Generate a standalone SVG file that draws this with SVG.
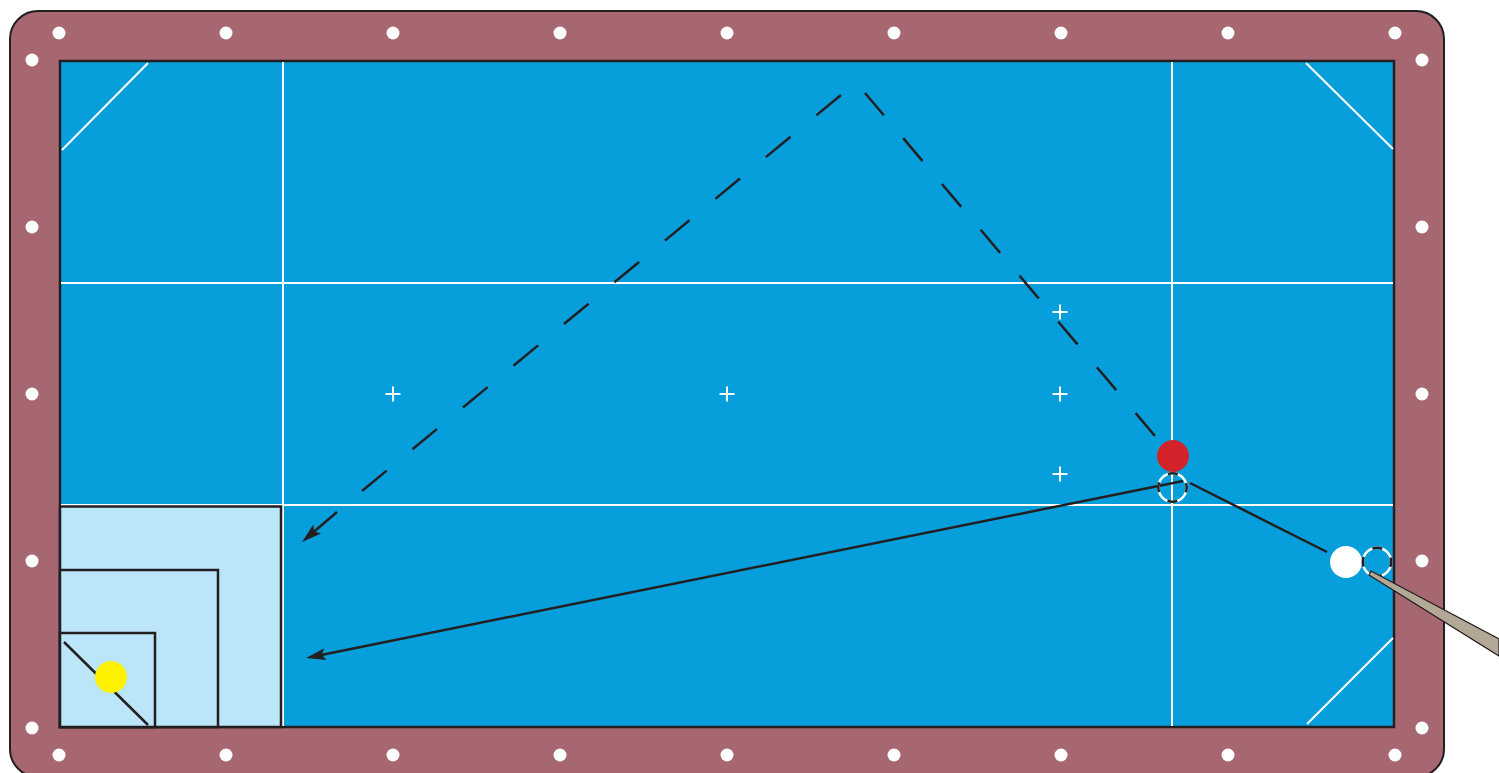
<svg xmlns="http://www.w3.org/2000/svg" width="1499" height="773" viewBox="0 0 1499 773">
<style>
.frame{fill:#a66771;stroke:#231f20;stroke-width:2}
.cloth{fill:#079fdb;stroke:#231f20;stroke-width:2.5}
.dia{fill:#ffffff}
.grid{stroke:#ffffff;stroke-width:2;fill:none}
.zone{fill:#bbe5f8;stroke:#231f20;stroke-width:2.5}
.path{stroke:#231f20;stroke-width:2.5;fill:none}
.ghostw{fill:none;stroke:#ffffff;stroke-width:2.5}
.ghostb{fill:none;stroke:#231f20;stroke-width:2.5;stroke-dasharray:10 12.27;stroke-dashoffset:5}
</style>
<defs>
<marker id="arr" viewBox="0 0 20 12" refX="12" refY="6" markerWidth="20" markerHeight="12" markerUnits="userSpaceOnUse" orient="auto">
<path d="M0,0 L20,6 L0,12 L4,6 z" fill="#231f20"/>
</marker>
</defs>
<g id="table">
<rect class="frame" x="10" y="11" width="1434" height="766" rx="28"/>
<rect class="cloth" x="60" y="61" width="1334" height="666"/>
<g id="grid">
<line class="grid" x1="283" y1="62" x2="283" y2="726"/>
<line class="grid" x1="1172" y1="62" x2="1172" y2="726"/>
<line class="grid" x1="61" y1="283" x2="1393" y2="283"/>
<line class="grid" x1="61" y1="505" x2="1393" y2="505"/>
<line class="grid" x1="62" y1="150" x2="148" y2="63"/>
<line class="grid" x1="1306" y1="63" x2="1393" y2="149"/>
<line class="grid" x1="1307" y1="724" x2="1393" y2="638"/>
<path class="grid" d="M385.5,394h15M393,386.5v15M719.5,394h15M727,386.5v15M1052.5,394h15M1060,386.5v15M1052.5,312h15M1060,304.5v15M1052.5,474h15M1060,466.5v15"/>
</g>
<g id="diamonds" class="dia">
<circle cx="59" cy="33" r="6.5"/><circle cx="226" cy="33" r="6.5"/><circle cx="393" cy="33" r="6.5"/><circle cx="560" cy="33" r="6.5"/><circle cx="727" cy="33" r="6.5"/><circle cx="894" cy="33" r="6.5"/><circle cx="1061" cy="33" r="6.5"/><circle cx="1228" cy="33" r="6.5"/><circle cx="1395" cy="33" r="6.5"/>
<circle cx="59" cy="755" r="6.5"/><circle cx="226" cy="755" r="6.5"/><circle cx="393" cy="755" r="6.5"/><circle cx="560" cy="755" r="6.5"/><circle cx="727" cy="755" r="6.5"/><circle cx="894" cy="755" r="6.5"/><circle cx="1061" cy="755" r="6.5"/><circle cx="1228" cy="755" r="6.5"/><circle cx="1395" cy="755" r="6.5"/>
<circle cx="32" cy="60" r="6.5"/><circle cx="32" cy="227" r="6.5"/><circle cx="32" cy="394" r="6.5"/><circle cx="32" cy="561" r="6.5"/><circle cx="32" cy="728" r="6.5"/>
<circle cx="1422" cy="60" r="6.5"/><circle cx="1422" cy="227" r="6.5"/><circle cx="1422" cy="394" r="6.5"/><circle cx="1422" cy="561" r="6.5"/><circle cx="1422" cy="728" r="6.5"/>
</g>
</g>
<g id="target-zone">
<rect class="zone" x="60" y="506.5" width="221" height="220.5"/>
<rect class="zone" x="60" y="570" width="158" height="157"/>
<rect class="zone" x="60" y="633" width="95" height="94"/>
<line class="path" x1="64" y1="642" x2="148" y2="725"/>
</g>
<g id="connectors">
<line class="path" x1="1155" y1="436" x2="865" y2="93" style="stroke-dasharray:30 30"/>
<line class="path" x1="841" y1="95" x2="362" y2="491" style="stroke-dasharray:32 33.5"/>
<line class="path" x1="337" y1="512" x2="308.1" y2="536.8" marker-end="url(#arr)"/>
<line class="path" x1="1327" y1="552" x2="1190" y2="483"/>
<line class="path" x1="1183" y1="481" x2="313.8" y2="656.4" marker-end="url(#arr)"/>
</g>
<g id="yellow-ball"><circle cx="111" cy="677" r="16" fill="#fff200"/></g>
<g id="red-ball"><circle cx="1173" cy="456" r="16" fill="#d2232a"/></g>
<g id="ghost-red"><circle class="ghostw" cx="1172.5" cy="487.5" r="14.2"/><circle class="ghostb" cx="1172.5" cy="487.5" r="14.2"/></g>
<g id="cue-ball"><circle cx="1346" cy="562" r="16" fill="#ffffff"/></g>
<g id="ghost-cue"><circle class="ghostw" cx="1377" cy="562" r="14.2"/><circle class="ghostb" cx="1377" cy="562" r="14.2"/></g>
<g id="cue"><polygon points="1371,571 1499,639 1499,656 1369,575" fill="#b3a796" stroke="#231f20" stroke-width="1.2"/></g>
</svg>
